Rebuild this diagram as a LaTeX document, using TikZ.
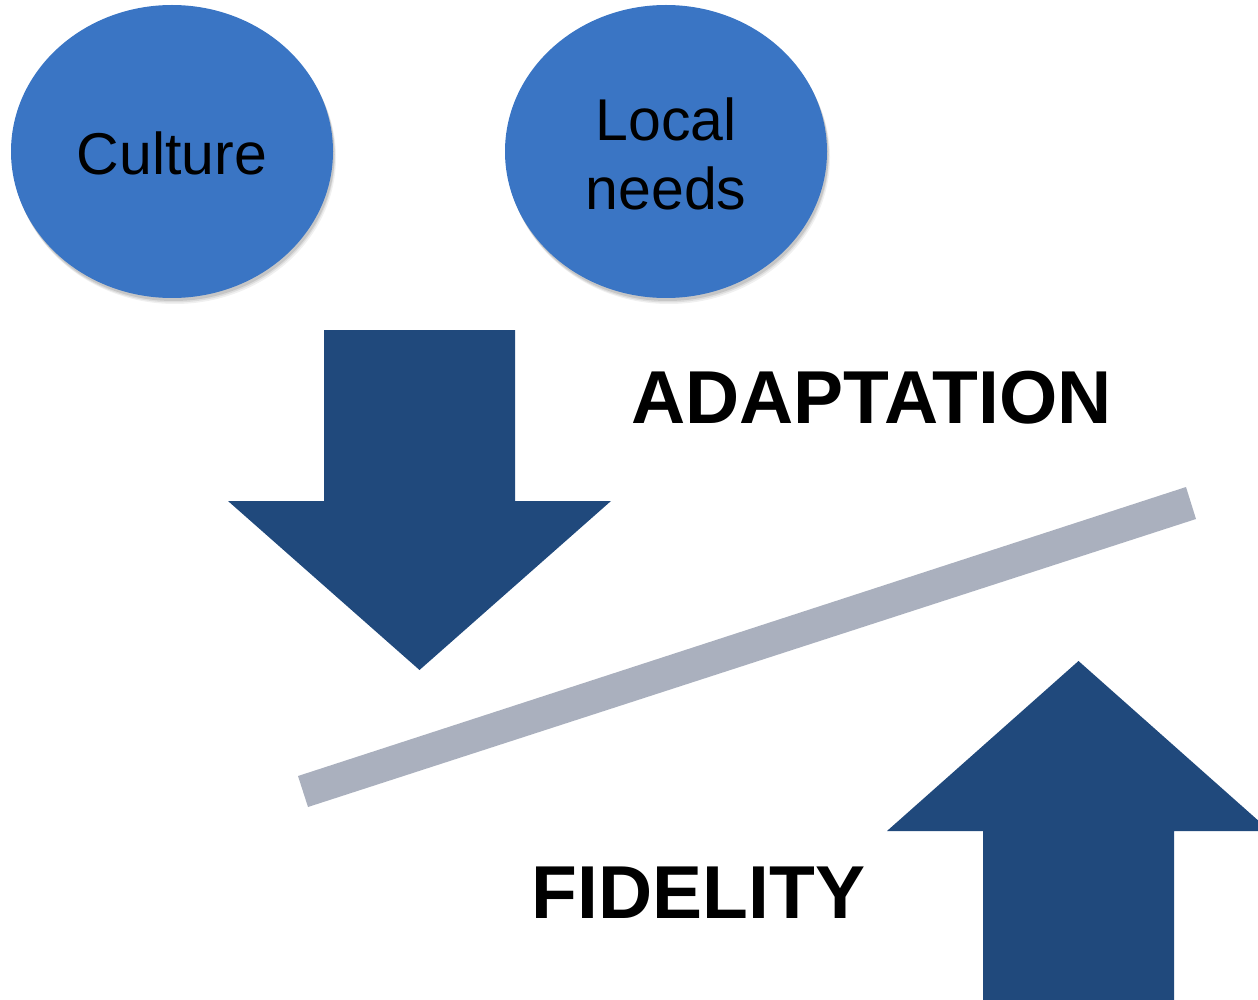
\documentclass[tikz,border=0pt]{standalone}
\usepackage{fontspec}
\setmainfont{Liberation Sans}
\usetikzlibrary{shapes.geometric}
\definecolor{ellblue}{RGB}{58,117,196}
\definecolor{arrblue}{RGB}{32,73,124}
\definecolor{bargray}{RGB}{170,176,190}
\tikzset{
  bubble/.style={ellipse, fill=ellblue, inner sep=0pt, minimum width=322pt, minimum height=293pt},
  bubtext/.style={align=center, font=\fontsize{59}{69}\selectfont, text=black, inner sep=0pt},
  bubshadow/.style={ellipse, fill=black, inner sep=0pt, minimum width=322pt, minimum height=293pt},
  bigword/.style={anchor=base, font=\fontsize{75}{80}\selectfont\bfseries, text=black, inner sep=0pt},
  blockarrow/.style={fill=arrblue, draw=none},
  bar/.style={fill=bargray, draw=none}
}
\begin{document}
\begin{tikzpicture}[x=1pt,y=-1pt]
\useasboundingbox (0,0) rectangle (1258,1000);
\clip (0,0) rectangle (1258,1000);
% shadows
\foreach \cx/\nm in {172/a,666/b}{
  \node[bubshadow, opacity=0.06] (sh1\nm) at (\cx+3,157.5) {};
  \node[bubshadow, opacity=0.08] (sh2\nm) at (\cx+2,156) {};
  \node[bubshadow, opacity=0.10] (sh3\nm) at (\cx+1.5,154.5) {};
}
\node[bubble] (culture) at (172,151.5) {};
\node[bubtext] (culturetxt) at (172,153.5) {Culture};
\node[bubble] (local) at (666,151.5) {};
\node[bubtext] (localtxt) at (666,154) {Local\\needs};
% down arrow
\draw[blockarrow] (324,330) -- (515,330) -- (515,501) -- (611,501) -- (419.5,670) -- (228,501) -- (324,501) -- cycle;
% bar
\draw[bar] (298,776) -- (1186,487) -- (1196,519) -- (308,807) -- cycle;
% up arrow
\draw[blockarrow] (983,1001) -- (983,831) -- (887,831) -- (1078.5,661) -- (1270,831) -- (1174,831) -- (1174,1001) -- cycle;
\node[bigword] (adapt) at (871.5,423) {ADAPTATION};
\node[bigword] (fid) at (698.5,918) {FIDELITY};
\end{tikzpicture}
\end{document}
